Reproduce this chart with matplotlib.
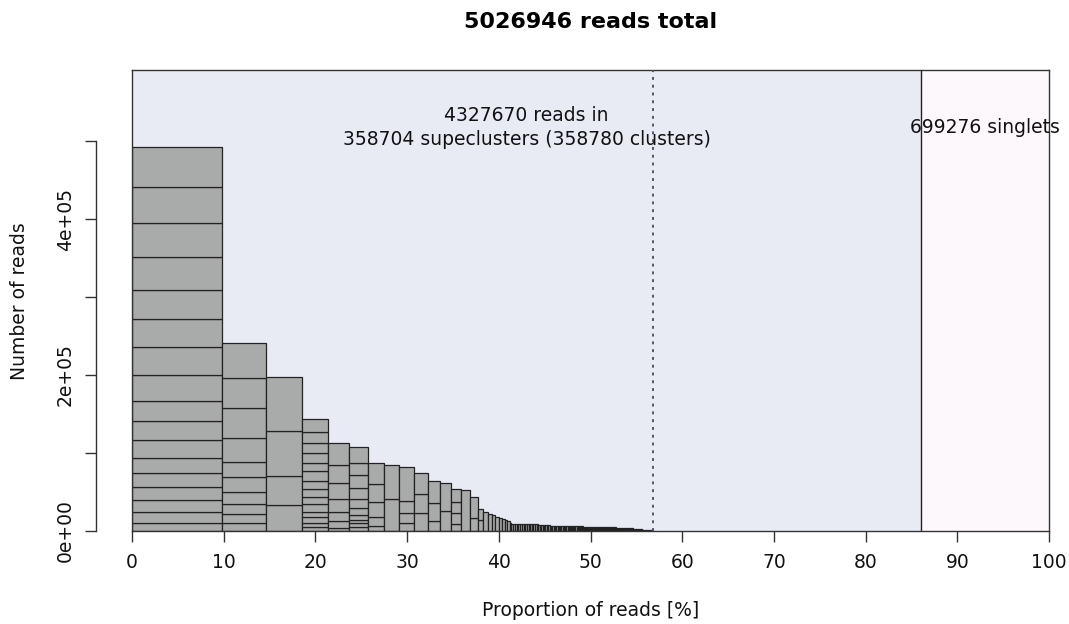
import matplotlib.pyplot as plt
import numpy as np

total_reads = 5026946
clustered_reads = 4327670
singlet_reads = 699276
n_superclusters = 358704
n_clusters = 358780
threshold_pct = 56.8

# read counts of clusters in the largest superclusters (top of the stack first)
top_superclusters = [
    [51300, 46900, 43200, 42300, 37600, 35900, 35100, 34100, 24900, 24700,
     23500, 19200, 17200, 17100, 15000, 14100, 10600],
    [44900, 37700, 38500, 30800, 19600, 19200, 15400, 13200, 11500, 9900],
    [69000, 58000, 36500, 33500],
    [16700, 14100, 12800, 12100, 11000, 12100, 10300, 10300, 9400, 9900,
     7200, 6900, 5900, 4700],
    [28600, 22700, 20500, 17100, 11200, 9700, 3500],
    [20500, 15400, 16700, 14100, 11500, 9000, 6400, 4200, 4700, 5100],
    [26500, 22700, 20000, 11200, 6400],
    [43600, 41000],
    [43200, 15800, 12800, 9900],
    [26900, 24400, 22700],
    [29000, 22300, 13200],
    [35900, 26000],
    [17100, 14100, 14100, 8600],
    [52600],
    [26900, 16300],
    [14100, 14100],
    [24500],
]

# smaller single-cluster superclusters: size and how many of that size
tail_sizes = [21400, 20100, 18400, 17100, 15400, 14100, 12400, 10700,
              9500, 8800, 8000, 7000, 6200, 5200, 4500, 3500, 2600, 1600, 900]
tail_counts = [1, 1, 1, 1, 1, 1, 1, 1,
               8, 8, 8, 13, 15, 17, 20, 26, 20, 25, 20]

clustered_pct = clustered_reads / total_reads * 100
groups = top_superclusters + [[s] for s in np.repeat(tail_sizes, tail_counts)]
max_sc = max(sum(g) for g in groups)

fig = plt.figure(figsize=(10.69, 6.24), dpi=100)
ax = fig.add_axes([132 / 1069, 93 / 624, 917 / 1069, 461 / 624])

# background regions
ax.axvspan(0, clustered_pct, color='#e9ebf4', zorder=0, lw=0)
ax.axvspan(clustered_pct, 100, color='#fdf8fc', zorder=0, lw=0)

lefts, widths, bottoms, heights = [], [], [], []
x = 0.0
for g in groups:
    w = sum(g) / total_reads * 100
    b = 0
    for c in reversed(g):
        lefts.append(x)
        widths.append(w)
        bottoms.append(b)
        heights.append(c)
        b += c
    x += w

ax.bar(lefts, heights, width=widths, bottom=bottoms, align='edge',
       color='#a9abaa', edgecolor='#222222', linewidth=0.9, zorder=2)

ax.axvline(clustered_pct, color='#222222', lw=1.0, zorder=3)
ax.axvline(threshold_pct, color='#555566', lw=1.4, ls=(0, (1.5, 2.5)), zorder=3)
ax.axvline(0, color='#333333', lw=1.0, zorder=3, clip_on=False)

ax.text(clustered_pct / 2, max_sc * 1.05,
        f"{clustered_reads} reads in\n{n_superclusters} supeclusters ({n_clusters} clusters)",
        ha='center', va='center', fontsize=13.5, linespacing=1.3, color='#111111')
ax.text((clustered_pct + 100) / 2, max_sc * 1.05, f"{singlet_reads} singlets",
        ha='center', va='center', fontsize=13.5, color='#111111')

ax.set_xlim(0, 100)
ax.set_ylim(0, max_sc * 1.2)

ax.set_xticks(np.arange(0, 101, 10))
ax.set_yticks(np.arange(0, 500001, 100000))
ax.set_yticklabels(['0e+00', '', '2e+05', '', '4e+05', ''])

for s in ax.spines.values():
    s.set_color('#333333')
    s.set_linewidth(1.0)
ax.spines['left'].set_position(('outward', 26))
ax.spines['left'].set_bounds(0, 500000)
ax.tick_params(axis='both', direction='out', length=8, width=1.0,
               color='#333333', labelsize=13.5, labelcolor='#111111')
ax.tick_params(axis='x', pad=8)
ax.tick_params(axis='y', pad=7, labelrotation=90)
for lab in ax.get_yticklabels():
    lab.set_va('center')

fig.text(590.5 / 1069, 1 - 22 / 624, f"{total_reads} reads total",
         ha='center', va='center', fontsize=16, fontweight='bold')
fig.text(590.5 / 1069, 1 - 611 / 624, "Proportion of reads [%]",
         ha='center', va='center', fontsize=13.5, color='#111111')
fig.text(20 / 1069, 1 - 301 / 624, "Number of reads", rotation=90,
         ha='center', va='center', fontsize=13.5, color='#111111')

fig.savefig('out.png', dpi=100)
